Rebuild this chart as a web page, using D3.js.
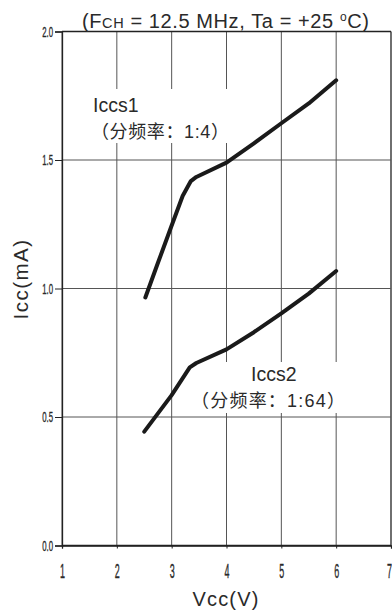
<!DOCTYPE html>
<html><head><meta charset="utf-8">
<script src="https://cdn.jsdelivr.net/npm/d3@7"></script>
<style>body{margin:0;background:#fff}svg{display:block}</style>
</head><body><svg id="c" width="392" height="610"></svg>
<script>
const xTicks = [1, 2, 3, 4, 5, 6, 7];
const yTicks = [0.0, 0.5, 1.0, 1.5, 2.0];
const vcc1 = [2.52, 2.75, 3.0, 3.2, 3.35, 3.45, 4.0, 4.5, 5.0, 5.5, 6.0];
const iccs1 = [0.965, 1.10, 1.245, 1.36, 1.418, 1.434, 1.49, 1.565, 1.643, 1.72, 1.81];
const vcc2 = [2.5, 3.0, 3.33, 3.45, 4.0, 4.5, 5.0, 5.5, 6.0];
const iccs2 = [0.443, 0.585, 0.693, 0.71, 0.763, 0.83, 0.903, 0.98, 1.068];
const seriesNames = ["Iccs1", "Iccs2"];
const seriesNotes = ["（分频率：1:4）", "（分频率：1:64）"];

const svg = d3.select("#c");
const x = d3.scaleLinear().domain([1, 7]).range([62, 391]);
const y = d3.scaleLinear().domain([0, 2]).range([545.5, 31.5]);
const gridC = "#555", axC = "#222", txt = "#2a2a2a";
const sans = "Liberation Sans, Arial, sans-serif";

// grid
svg.append("g").selectAll("line").data(xTicks).join("line")
  .attr("x1", d => x(d)).attr("x2", d => x(d)).attr("y1", y(0)).attr("y2", y(2))
  .attr("stroke", d => d === 7 ? axC : gridC).attr("stroke-width", d => d === 7 ? 1.3 : 1);
svg.append("g").selectAll("line").data(yTicks).join("line")
  .attr("x1", x(1)).attr("x2", x(7)).attr("y1", d => y(d)).attr("y2", d => y(d))
  .attr("stroke", d => (d === 0 || d === 2) ? axC : gridC).attr("stroke-width", d => (d === 0 || d === 2) ? 1.3 : 1);

// axes
const yAxis = d3.axisLeft(y).tickValues(yTicks).tickFormat(d3.format(".1f")).tickSize(7).tickPadding(2);
const gy = svg.append("g").attr("transform", `translate(${x(1)},0)`).call(yAxis);
gy.select(".domain").attr("stroke", axC).attr("stroke-width", 1.3);
gy.selectAll(".tick line").attr("stroke", axC);
gy.selectAll(".tick text").attr("font-family", sans).attr("font-size", 15).attr("fill", txt)
  .attr("stroke", txt).attr("stroke-width", 0.35)
  .attr("transform", function(){ const xx = +d3.select(this).attr("x"); return `translate(${xx},0) scale(0.52,1) translate(${-xx},0)`; });

const xAxis = d3.axisBottom(x).tickValues(xTicks).tickFormat(d3.format("d")).tickSize(3).tickPadding(16);
const gx = svg.append("g").attr("transform", `translate(0,${y(0)})`).call(xAxis);
gx.select(".domain").attr("stroke", axC).attr("stroke-width", 1.3);
gx.selectAll(".tick line").attr("stroke", axC);
gx.selectAll(".tick text").attr("font-family", sans).attr("font-size", 19.5).attr("fill", txt)
  .attr("stroke", txt).attr("stroke-width", 0.35)
  .attr("transform", d => d === 7 ? "translate(-2,0) scale(0.46,1)" : "scale(0.46,1)");

// labels with white backgrounds
function label(name, note, lx, ly, nx, bg) {
  svg.append("rect").attr("x", bg[0]).attr("y", bg[1]).attr("width", bg[2]).attr("height", bg[3]).attr("fill", "#fff");
  const g = svg.append("g").attr("fill", txt);
  g.append("text").attr("x", lx).attr("y", ly).attr("font-family", sans).attr("font-size", 19.5).text(name);
  g.append("text").attr("x", nx[0]).attr("y", ly + 26).attr("textLength", nx[1]).attr("lengthAdjust", "spacing")
    .attr("font-family", "Liberation Sans, Arial, 'Noto Sans CJK SC', sans-serif").attr("font-size", 18).text(note);
}
label(seriesNames[0], seriesNotes[0], 93, 112, [91, 138], [88, 89, 145, 54]);
label(seriesNames[1], seriesNotes[1], 251, 381, [191, 154], [190, 362, 157, 51]);

// curves
const line = d3.line().x(d => x(d[0])).y(d => y(d[1])).curve(d3.curveLinear);
[[vcc1, iccs1], [vcc2, iccs2]].forEach(([vx, vy]) => {
  svg.append("path").datum(vx.map((v, i) => [v, vy[i]])).attr("d", line)
    .attr("fill", "none").attr("stroke", "#1a1a1a").attr("stroke-width", 4)
    .attr("stroke-linecap", "round").attr("stroke-linejoin", "round");
});

// title
const t = svg.append("text").attr("x", 82).attr("y", 28).attr("font-family", sans)
  .attr("font-size", 20).attr("letter-spacing", 0.6).attr("fill", txt);
t.append("tspan").text("(F");
t.append("tspan").attr("font-size", 14.5).text("CH");
t.append("tspan").text(" = 12.5 MHz, Ta = +25 ");
t.append("tspan").attr("font-size", 12).attr("dy", -7).text("o");
t.append("tspan").attr("dy", 7).text("C)");

// axis titles
svg.append("text").attr("x", 226).attr("y", 606).attr("text-anchor", "middle")
  .attr("font-family", sans).attr("font-size", 20).attr("letter-spacing", 1.2).attr("fill", txt).text("Vcc(V)");
svg.append("text").attr("transform", "translate(28,279) rotate(-90)").attr("text-anchor", "middle")
  .attr("font-family", sans).attr("font-size", 20.5).attr("letter-spacing", 1.5).attr("fill", txt).text("Icc(mA)");
</script></body></html>
